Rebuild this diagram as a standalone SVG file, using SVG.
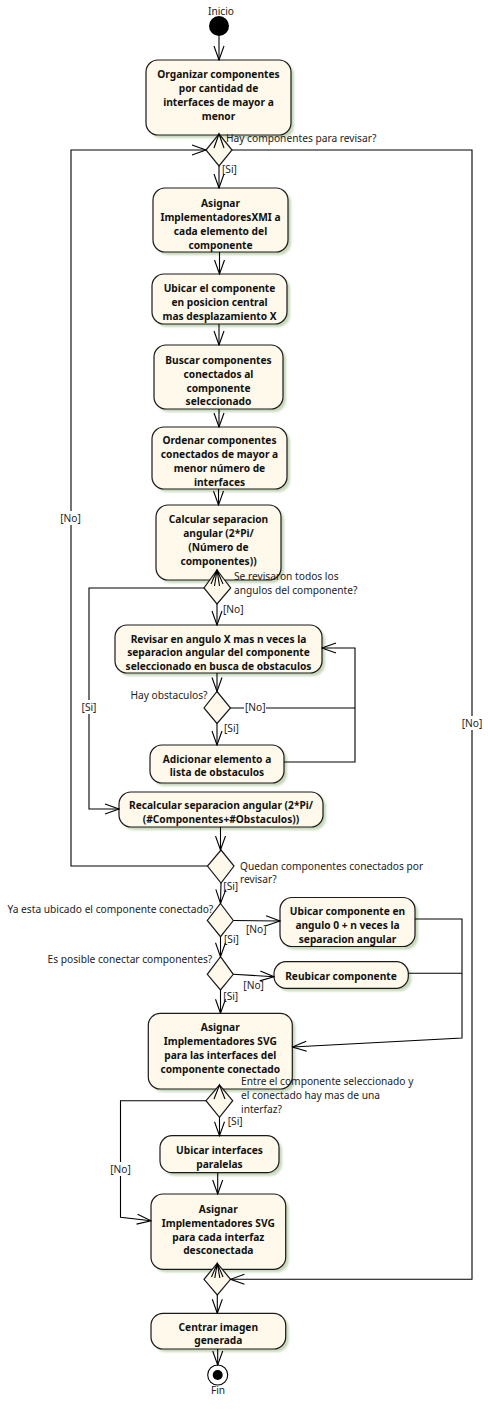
<svg xmlns="http://www.w3.org/2000/svg" width="488" height="1419" viewBox="0 0 488 1419">
  <style>
    .bg { fill: #ffffff; }
    .sh { fill: #c6d8ba; filter: url(#soft); }
    .box { fill: #fef9ea; stroke: #1a1a1a; stroke-width: 1.2; }
    .dia { fill: #fef9ea; stroke: #1a1a1a; stroke-width: 1.2; }
    .ln { fill: none; stroke: #000; stroke-width: 1.1; }
    .t { font-family: "Noto Sans", "DejaVu Sans", sans-serif; font-size: 10.2px; font-weight: bold; text-anchor: middle; fill: #111; }
    .lb { font-family: "Noto Sans", "DejaVu Sans", sans-serif; font-size: 10.2px; fill: #222; }
    .lbm { text-anchor: middle; }
    .lbe { text-anchor: end; }
    .cut { fill: #ffffff; }
  </style>
  <defs>
    <filter id="soft" x="-10%" y="-10%" width="130%" height="130%">
      <feGaussianBlur stdDeviation="1.2"/>
    </filter>
    <marker id="open" viewBox="-15 -6 16 12" refX="0" refY="0" markerWidth="16" markerHeight="12" markerUnits="userSpaceOnUse" orient="auto">
      <path d="M-14,-5 L0,0 L-14,5" fill="none" stroke="#000" stroke-width="1.1"/>
    </marker>
  </defs>

  <rect class="bg" x="0" y="0" width="488" height="1419"/>

  <!-- initial node -->
  <g id="inicio">
    <text class="lb lbm" x="221" y="15">Inicio</text>
    <circle cx="219" cy="26" r="10" fill="#000"/>
  </g>

  <g id="organizar">
    <rect class="sh" x="149" y="63" width="145" height="75" rx="12"/>
    <rect class="box" x="146" y="60" width="145" height="75" rx="12"/>
    <text class="t"><tspan x="218.5" y="77.5">Organizar componentes</tspan><tspan x="218.5" y="91.5">por cantidad de</tspan><tspan x="218.5" y="105.5">interfaces de mayor a</tspan><tspan x="218.5" y="119.5">menor</tspan></text>
  </g>

  <g id="asignar-xmi">
    <rect class="sh" x="156" y="191" width="135" height="64" rx="12"/>
    <rect class="box" x="153" y="188" width="135" height="64" rx="12"/>
    <text class="t"><tspan x="220.5" y="206.5">Asignar</tspan><tspan x="220.5" y="220.5">ImplementadoresXMI a</tspan><tspan x="220.5" y="234.5">cada elemento del</tspan><tspan x="220.5" y="248.5">componente</tspan></text>
  </g>

  <g id="ubicar-central">
    <rect class="sh" x="155" y="277" width="135" height="50" rx="12"/>
    <rect class="box" x="152" y="274" width="135" height="50" rx="12"/>
    <text class="t"><tspan x="219.5" y="292">Ubicar el componente</tspan><tspan x="219.5" y="306">en posicion central</tspan><tspan x="219.5" y="320">mas desplazamiento X</tspan></text>
  </g>

  <g id="buscar">
    <rect class="sh" x="157" y="348" width="129" height="64" rx="12"/>
    <rect class="box" x="154" y="345" width="129" height="64" rx="12"/>
    <text class="t"><tspan x="218.5" y="363.5">Buscar componentes</tspan><tspan x="218.5" y="377.5">conectados al</tspan><tspan x="218.5" y="391.5">componente</tspan><tspan x="218.5" y="405">seleccionado</tspan></text>
  </g>

  <g id="ordenar">
    <rect class="sh" x="155" y="430" width="135" height="62" rx="12"/>
    <rect class="box" x="152" y="427" width="135" height="62" rx="12"/>
    <text class="t"><tspan x="219.5" y="444">Ordenar componentes</tspan><tspan x="219.5" y="458">conectados de mayor a</tspan><tspan x="219.5" y="472">menor número de</tspan><tspan x="219.5" y="486">interfaces</tspan></text>
  </g>

  <g id="calcular">
    <rect class="sh" x="159" y="508" width="125" height="75" rx="12"/>
    <rect class="box" x="156" y="505" width="125" height="75" rx="12"/>
    <text class="t"><tspan x="218.5" y="522.5">Calcular separacion</tspan><tspan x="218.5" y="536.5">angular (2*Pi/</tspan><tspan x="218.5" y="550.5">(Número de</tspan><tspan x="218.5" y="564.5">componentes))</tspan></text>
  </g>

  <g id="revisar">
    <rect class="sh" x="118" y="628" width="207" height="48" rx="12"/>
    <rect class="box" x="115" y="625" width="207" height="48" rx="12"/>
    <text class="t"><tspan x="218.5" y="642.5">Revisar en angulo X mas n veces la</tspan><tspan x="218.5" y="656">separacion angular del componente</tspan><tspan x="218.5" y="670">seleccionado en busca de obstaculos</tspan></text>
  </g>

  <g id="adicionar">
    <rect class="sh" x="153" y="748" width="134" height="38" rx="12"/>
    <rect class="box" x="150" y="745" width="134" height="38" rx="12"/>
    <text class="t"><tspan x="217" y="762.5">Adicionar elemento a</tspan><tspan x="217" y="776">lista de obstaculos</tspan></text>
  </g>

  <g id="recalcular">
    <rect class="sh" x="122" y="795" width="204" height="35" rx="12"/>
    <rect class="box" x="119" y="792" width="204" height="35" rx="12"/>
    <text class="t"><tspan x="221" y="809">Recalcular separacion angular (2*Pi/</tspan><tspan x="221" y="822.5">(#Componentes+#Obstaculos))</tspan></text>
  </g>

  <g id="ubicar-angulo">
    <rect class="sh" x="283" y="900.5" width="135" height="49" rx="12"/>
    <rect class="box" x="280" y="897.5" width="135" height="49" rx="12"/>
    <text class="t"><tspan x="347.5" y="915">Ubicar componente en</tspan><tspan x="347.5" y="929">angulo 0 + n veces la</tspan><tspan x="347.5" y="943">separacion angular</tspan></text>
  </g>

  <g id="reubicar">
    <rect class="sh" x="277" y="964.7" width="134.3" height="26.6" rx="12"/>
    <rect class="box" x="274" y="961.7" width="134.3" height="26.6" rx="12"/>
    <text class="t"><tspan x="341" y="979.5">Reubicar componente</tspan></text>
  </g>

  <g id="asignar-svg-conectado">
    <rect class="sh" x="151.3" y="1016.3" width="144" height="75.7" rx="12"/>
    <rect class="box" x="148.3" y="1013.3" width="144" height="75.7" rx="12"/>
    <text class="t"><tspan x="220.3" y="1031">Asignar</tspan><tspan x="220.3" y="1045">Implementadores SVG</tspan><tspan x="220.3" y="1059">para las interfaces del</tspan><tspan x="220.3" y="1073.3">componente conectado</tspan></text>
  </g>

  <g id="ubicar-paralelas">
    <rect class="sh" x="163" y="1138.7" width="119" height="37" rx="12"/>
    <rect class="box" x="160" y="1135.7" width="119" height="37" rx="12"/>
    <text class="t"><tspan x="219.5" y="1154">Ubicar interfaces</tspan><tspan x="219.5" y="1167.7">paralelas</tspan></text>
  </g>

  <g id="asignar-svg-desconectada">
    <rect class="sh" x="154" y="1197" width="134.7" height="75.3" rx="12"/>
    <rect class="box" x="151" y="1194" width="134.7" height="75.3" rx="12"/>
    <text class="t"><tspan x="218.3" y="1212.7">Asignar</tspan><tspan x="218.3" y="1226.7">Implementadores SVG</tspan><tspan x="218.3" y="1241">para cada interfaz</tspan><tspan x="218.3" y="1254.3">desconectada</tspan></text>
  </g>

  <g id="centrar">
    <rect class="sh" x="154" y="1316.3" width="134.7" height="35.7" rx="12"/>
    <rect class="box" x="151" y="1313.3" width="134.7" height="35.7" rx="12"/>
    <text class="t"><tspan x="218.3" y="1331">Centrar imagen</tspan><tspan x="218.3" y="1344.3">generada</tspan></text>
  </g>

  <!-- decisions and merges -->
  <g id="d-hay-componentes">
    <polygon class="dia" points="219,134 232,150 219,166 206,150"/>
    <text class="lb" x="226" y="141.5">Hay componentes para revisar?</text>
  </g>

  <g id="d-angulos">
    <polygon class="dia" points="217,570 230.7,588 217,604 204,588"/>
    <text class="lb"><tspan x="234" y="580">Se revisaron todos los</tspan><tspan x="234" y="593.5">angulos del componente?</tspan></text>
  </g>

  <g id="d-obstaculos">
    <polygon class="dia" points="217,691.5 230.5,708 217,723.5 204,708"/>
    <text class="lb lbe" x="207.5" y="698.5">Hay obstaculos?</text>
  </g>

  <g id="d-quedan">
    <polygon class="dia" points="221,850 234,866 221,883 207.5,866"/>
    <text class="lb"><tspan x="240" y="869.5">Quedan componentes conectados por</tspan><tspan x="240" y="883">revisar?</tspan></text>
  </g>

  <g id="d-ubicado">
    <polygon class="dia" points="220.5,903.5 233.3,920.5 220.5,936.7 207.3,920.5"/>
    <text class="lb lbe" x="213.3" y="913">Ya esta ubicado el componente conectado?</text>
  </g>

  <g id="d-posible">
    <polygon class="dia" points="220.5,956.7 233.3,974.3 220.5,990 207.3,974.3"/>
    <text class="lb lbe" x="212.3" y="963.3">Es posible conectar componentes?</text>
  </g>

  <g id="d-interfaz">
    <polygon class="dia" points="219.5,1085 232.7,1100.7 219.5,1117.3 206,1100.7"/>
    <text class="lb"><tspan x="241" y="1085">Entre el componente seleccionado y</tspan><tspan x="241" y="1099.3">el conectado hay mas de una</tspan><tspan x="241" y="1113.3">interfaz?</tspan></text>
  </g>

  <g id="m-final">
    <polygon class="dia" points="217.3,1263.3 230.5,1279.3 217.3,1295 204,1279.3"/>
  </g>

  <!-- final node -->
  <g id="fin">
    <circle cx="217.7" cy="1375" r="10" fill="#fff" stroke="#000" stroke-width="1.1"/>
    <circle cx="217.7" cy="1375" r="5" fill="#000"/>
    <text class="lb lbm" x="218" y="1394">Fin</text>
  </g>

  <!-- control flows -->
  <g id="connectors">
    <path class="ln" d="M219,36 V60" marker-end="url(#open)"/>
    <path class="ln" d="M214,148 L219,134 L224,148"/>
    <path class="ln" d="M219,166 V188" marker-end="url(#open)"/>
    <path class="ln" d="M219.5,252 V274" marker-end="url(#open)"/>
    <path class="ln" d="M219,324 V345" marker-end="url(#open)"/>
    <path class="ln" d="M219,409 V427" marker-end="url(#open)"/>
    <path class="ln" d="M218.5,489 V505" marker-end="url(#open)"/>
    <path class="ln" d="M211,584 L217,570 L223,584 M214.5,586 L217,570 L219.5,586"/>
    <path class="ln" d="M217,604 V625" marker-end="url(#open)"/>
    <path class="ln" d="M217,673 V691.5" marker-end="url(#open)"/>
    <path class="ln" d="M217,723.5 V745" marker-end="url(#open)"/>
    <path class="ln" d="M230.5,708 H355 V648 H322" marker-end="url(#open)"/>
    <path class="ln" d="M284,762 H355 V708"/>
    <path class="ln" d="M204,588 H89 V809 H119" marker-end="url(#open)"/>
    <path class="ln" d="M220.5,827 V850" marker-end="url(#open)"/>
    <path class="ln" d="M207.5,866 H71 V150 H206" marker-end="url(#open)"/>
    <path class="ln" d="M221,883 L220.5,903.5" marker-end="url(#open)"/>
    <path class="ln" d="M233.3,920.5 L280,921" marker-end="url(#open)"/>
    <path class="ln" d="M415,919 H462 V1038 L292.5,1047" marker-end="url(#open)"/>
    <path class="ln" d="M220.5,936.7 V956.7" marker-end="url(#open)"/>
    <path class="ln" d="M233.3,974.3 L274,976.7" marker-end="url(#open)"/>
    <path class="ln" d="M408.3,973.3 H462"/>
    <path class="ln" d="M220.5,990 V1013.3" marker-end="url(#open)"/>
    <path class="ln" d="M214,1099 L219.5,1085 L225,1099"/>
    <path class="ln" d="M219.5,1117.3 V1135.7" marker-end="url(#open)"/>
    <path class="ln" d="M206,1100.7 H120.5 V1217.3 L151,1220.7" marker-end="url(#open)"/>
    <path class="ln" d="M217.7,1172.7 V1194" marker-end="url(#open)"/>
    <path class="ln" d="M211.5,1277 L217.3,1263.3 L223,1277 M214.8,1278 L217.3,1263.3 L219.8,1278"/>
    <path class="ln" d="M232,150 H472 V1279.3 H230.5" marker-end="url(#open)"/>
    <path class="ln" d="M217.3,1295 V1313.3" marker-end="url(#open)"/>
    <path class="ln" d="M217.7,1349 V1365" marker-end="url(#open)"/>

    <!-- guards -->
    <text class="lb" x="222" y="173">[Si]</text>
    <rect class="cut" x="59" y="511" width="23" height="14"/>
    <text class="lb lbm" x="70.5" y="522">[No]</text>
    <text class="lb" x="223" y="613">[No]</text>
    <rect class="cut" x="81" y="700" width="17" height="14"/>
    <text class="lb lbm" x="89" y="711">[Si]</text>
    <rect class="cut" x="244" y="700" width="22" height="14"/>
    <text class="lb" x="245" y="710.5">[No]</text>
    <text class="lb" x="224" y="732">[Si]</text>
    <rect class="cut" x="461" y="716" width="23" height="14"/>
    <text class="lb lbm" x="472" y="727">[No]</text>
    <text class="lb" x="223.3" y="890">[Si]</text>
    <text class="lb" x="246" y="933.3">[No]</text>
    <text class="lb" x="224" y="943.3">[Si]</text>
    <text class="lb" x="243.3" y="988.5">[No]</text>
    <text class="lb" x="223.3" y="1000">[Si]</text>
    <text class="lb" x="227.7" y="1125">[Si]</text>
    <rect class="cut" x="109" y="1162" width="23" height="14"/>
    <text class="lb lbm" x="120.5" y="1172.7">[No]</text>
  </g>
</svg>
